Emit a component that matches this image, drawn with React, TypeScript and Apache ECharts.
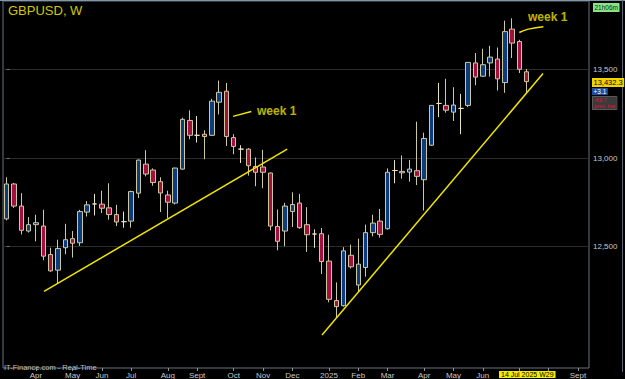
import React, { useEffect, useRef } from 'react';
import * as echarts from 'echarts';

// Weekly GBPUSD (x10000), first week starts Monday 4 Mar 2024
const START_UTC = Date.UTC(2024, 2, 4);
const TOTAL_WEEKS = 80; // axis extends into the future
const CURRENT_WEEK = 71; // 14 Jul 2025

const opens = [
  12657, 12854, 12729, 12588, 12624, 12616, 12455, 12367, 12494, 12545,
  12522, 12695, 12741, 12740, 12719, 12681, 12641, 12644, 12802, 12966,
  12933, 12867, 12792, 12746, 12938, 13213, 13129, 13135, 13129, 13316,
  13378, 13116, 13051, 13051, 12953, 12950, 12916, 12614, 12588, 12698,
  12746, 12624, 12571, 12573, 12418, 12195, 12166, 12451, 12283, 12382,
  12579, 12644, 12601, 12930, 12925, 12921, 12929, 12878, 13073, 13309,
  13298, 13260, 13281, 13298, 13538, 13463, 13538, 13560, 13427, 13729,
  13659, 13488,
];
const closes = [
  12854, 12729, 12592, 12624, 12635, 12446, 12363, 12489, 12539, 12519,
  12698, 12736, 12741, 12717, 12681, 12639, 12641, 12811, 12989, 12910,
  12862, 12803, 12751, 12944, 13219, 13129, 13129, 13122, 13322, 13372,
  13122, 13066, 13051, 12957, 12920, 12920, 12616, 12530, 12729, 12738,
  12607, 12567, 12571, 12416, 12202, 12161, 12476, 12386, 12401, 12579,
  12633, 12569, 12920, 12930, 12917, 12938, 12897, 13111, 13298, 13309,
  13271, 13300, 13281, 13541, 13458, 13528, 13571, 13448, 13715, 13650,
  13502, 13432.3,
];
const lows = [
  12648, 12719, 12569, 12579, 12530, 12423, 12358, 12292, 12457, 12438,
  12504, 12670, 12676, 12689, 12652, 12616, 12607, 12607, 12774, 12897,
  12844, 12695, 12661, 12738, 12934, 13107, 13088, 12994, 13125, 13247,
  13069, 13022, 12972, 12901, 12841, 12830, 12592, 12479, 12502, 12611,
  12601, 12470, 12493, 12345, 12185, 12098, 12161, 12376, 12245, 12330,
  12558, 12551, 12596, 12858, 12884, 12867, 12848, 12704, 13069, 13232,
  13257, 13210, 13135, 13288, 13412, 13460, 13461, 13382, 13369, 13566,
  13481, 13369,
];
const highs = [
  12892, 12860, 12802, 12667, 12680, 12708, 12494, 12539, 12629, 12588,
  12708, 12757, 12798, 12816, 12858, 12736, 12698, 12816, 12992, 13045,
  12942, 12892, 12816, 12946, 13229, 13270, 13238, 13157, 13335, 13438,
  13425, 13135, 13073, 13056, 13004, 13047, 12918, 12710, 12747, 12807,
  12798, 12723, 12597, 12605, 12567, 12298, 12497, 12511, 12545, 12624,
  12680, 12713, 12942, 12989, 13015, 12990, 13206, 13144, 13300, 13425,
  13448, 13401, 13363, 13543, 13594, 13618, 13635, 13625, 13777, 13790,
  13669, 13504,
];

const yTicks = [12500, 13000, 13500];
const Y_MIN = 11814;
const Y_MAX = 13888;

// Annotations in [week index, price]
const trendLine1 = [[5.1, 12247], [38.3, 13051]];
const trendLine2 = [[43.05, 12000], [73.22, 13478]];
const weekPointer1 = [[30.9, 13236], [33.4, 13264]];
const weekPointer2 = [[69.98, 13710], [71.21, 13729], [73.27, 13743]];
const weekLabels = [[34.18, 13264], [71.17, 13798]];

const MONTHS = ['Jan', 'Feb', 'Mar', 'Apr', 'May', 'Jun', 'Jul', 'Aug', 'Sept', 'Oct', 'Nov', 'Dec'];
const DAY = 86400000;
const weekDates = Array.from({ length: TOTAL_WEEKS }, (_, i) => new Date(START_UTC + i * 7 * DAY));
const categories = weekDates.map((d) => d.toISOString().slice(0, 10));

function monthStart(i: number): boolean {
  if (i <= 0) return false;
  return weekDates[i].getUTCMonth() !== weekDates[i - 1].getUTCMonth();
}
function monthLabel(i: number): string {
  const d = weekDates[i];
  return d.getUTCMonth() === 0 ? String(d.getUTCFullYear()) : MONTHS[d.getUTCMonth()];
}

const FONT = '"Liberation Sans", Arial, sans-serif';
const YELLOW = '#f0e400';

export default function App() {
  const ref = useRef<HTMLDivElement>(null);

  useEffect(() => {
    if (!ref.current) return;
    const chart = echarts.init(ref.current, undefined, { renderer: 'svg' });
    const candles = opens.map((o, i) => [o, closes[i], lows[i], highs[i]]);

    chart.setOption({
      animation: false,
      backgroundColor: '#000',
      textStyle: { fontFamily: FONT },
      grid: {
        left: 3,
        right: 36,
        top: 1,
        bottom: 9,
        show: true,
        borderColor: '#66737f',
        borderWidth: 1,
        backgroundColor: '#000',
      },
      xAxis: [
        {
          type: 'category',
          data: categories,
          boundaryGap: true,
          axisLine: { show: false },
          axisTick: {
            show: true,
            alignWithLabel: true,
            length: 3,
            interval: (i: number) => monthStart(i),
            lineStyle: { color: '#8a96a0' },
          },
          axisLabel: {
            show: true,
            interval: (i: number) => monthStart(i) && Math.abs(i - CURRENT_WEEK) > 4,
            formatter: (_v: string, i: number) => monthLabel(i),
            color: '#c8c8c8',
            fontSize: 8,
            margin: 3,
          },
          splitLine: { show: false },
        },
        { type: 'value', min: -0.5, max: TOTAL_WEEKS - 0.5, show: false },
      ],
      yAxis: [
        {
          type: 'value',
          position: 'right',
          min: Y_MIN,
          max: Y_MAX,
          axisLine: { show: false },
          axisTick: { show: true, length: 3, customValues: yTicks, lineStyle: { color: '#777' } },
          axisLabel: {
            customValues: yTicks,
            formatter: (v: number) => v.toLocaleString('en-US'),
            color: '#c8c8c8',
            fontSize: 8,
            margin: 4,
          },
          splitLine: { show: true, lineStyle: { color: '#2c2c2c', width: 1 } },
        },
      ],
      series: [
        {
          type: 'candlestick',
          data: candles,
          xAxisIndex: 0,
          yAxisIndex: 0,
          barWidth: 5,
          itemStyle: {
            color: '#0c3c7c',
            color0: '#a3103e',
            borderColor: '#cdc8a0',
            borderColor0: '#cdc8a0',
            borderColorDoji: '#e8e4c0',
            borderWidth: 1,
          },
          silent: true,
        },
        {
          type: 'line', xAxisIndex: 1, yAxisIndex: 0, data: trendLine1, symbol: 'none', silent: true,
          lineStyle: { color: YELLOW, width: 1.5 },
        },
        {
          type: 'line', xAxisIndex: 1, yAxisIndex: 0, data: trendLine2, symbol: 'none', silent: true,
          lineStyle: { color: YELLOW, width: 1.5 },
        },
        {
          type: 'line', xAxisIndex: 1, yAxisIndex: 0, data: weekPointer1, symbol: 'none', silent: true,
          lineStyle: { color: YELLOW, width: 1.5 },
        },
        {
          type: 'line', xAxisIndex: 1, yAxisIndex: 0, data: weekPointer2, symbol: 'none', smooth: true, silent: true,
          lineStyle: { color: YELLOW, width: 1.5 },
        },
        {
          type: 'scatter', xAxisIndex: 1, yAxisIndex: 0, data: weekLabels, symbolSize: 0, silent: true,
          label: {
            show: true, position: 'right', distance: 0, formatter: 'week 1',
            color: YELLOW, fontSize: 12, fontWeight: 'bold', fontFamily: FONT,
          },
        },
      ],
      graphic: [
        { type: 'line', shape: { x1: 0, y1: 0.5, x2: 625, y2: 0.5 }, style: { stroke: '#7f98ad', lineWidth: 1 } },
        { type: 'line', shape: { x1: 622.5, y1: 0, x2: 622.5, y2: 372 }, style: { stroke: '#5b6570', lineWidth: 1 } },
        {
          type: 'text', left: 8, top: 4,
          style: { text: 'GBPUSD, W', fill: '#cfc800', font: `13px ${FONT}` },
        },
        {
          type: 'text', left: 4, top: 363,
          style: { text: 'IT-Finance.com - Real-Time', fill: '#bdbdbd', font: `7.5px ${FONT}` },
        },
        {
          type: 'text', left: 593, top: 3,
          style: {
            text: '21h06m', fill: '#0b300b', font: `6.5px ${FONT}`,
            backgroundColor: '#86e486', padding: [1, 1.5],
          },
        },
        {
          type: 'text', left: 592, top: 78,
          style: {
            text: '13,432.3', fill: '#000', font: `7.5px ${FONT}`,
            backgroundColor: '#f2d400', padding: [0.5, 1.5],
          },
        },
        {
          type: 'text', left: 592, top: 88,
          style: {
            text: '+3.1', fill: '#fff', font: `6.5px ${FONT}`,
            backgroundColor: '#1f4f9f', padding: [0, 1.5],
          },
        },
        {
          type: 'text', left: 592, top: 96,
          style: {
            text: '-69.7\nprev. bar', fill: '#e0103c', font: `5.5px ${FONT}`, lineHeight: 6,
            backgroundColor: '#3a3a3a', borderColor: '#777', borderWidth: 0.5, padding: [0.5, 1.5],
          },
        },
        {
          type: 'text', left: 499, top: 371,
          style: {
            text: '14 Jul 2025 W29', fill: '#000', font: `7px ${FONT}`,
            backgroundColor: '#f2ee00', padding: [0, 2],
          },
        },
      ],
    });

    return () => chart.dispose();
  }, []);

  return (
    <div
      ref={ref}
      style={{ position: 'absolute', left: 0, top: 0, width: 625, height: 379, background: '#000' }}
    />
  );
}
